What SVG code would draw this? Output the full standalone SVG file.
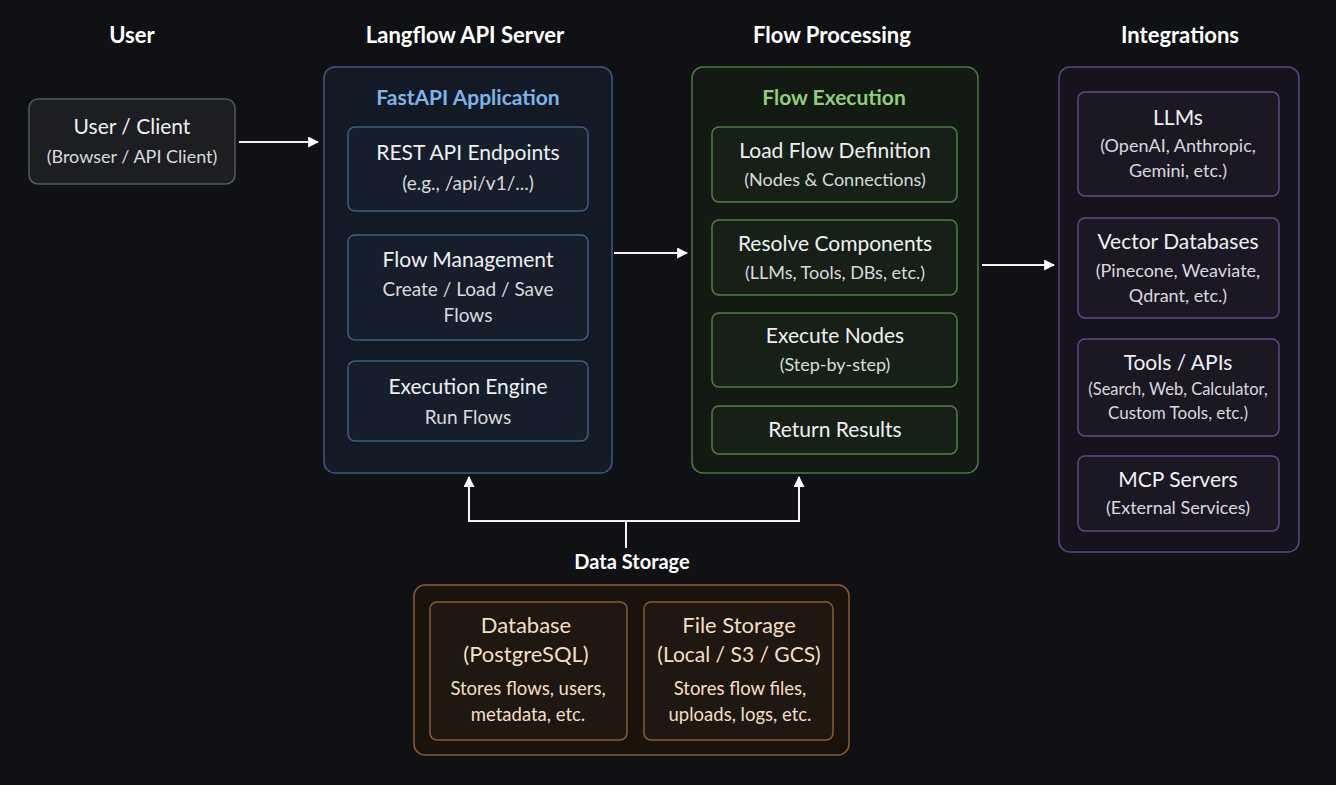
<svg xmlns="http://www.w3.org/2000/svg" width="1336" height="785" viewBox="0 0 1336 785">
<defs>
<marker id="ah" viewBox="0 0 10 10" refX="9" refY="5" markerWidth="11" markerHeight="11" markerUnits="userSpaceOnUse" orient="auto"><path d="M0,0 L10,5 L0,10 z" fill="#ffffff"/></marker>
<style>
text{font-family:Lato,"Noto Sans","Liberation Sans",sans-serif;text-anchor:middle;fill:#eef0f2}
.hdr{font-size:22px;font-weight:bold;fill:#ffffff}
.t{font-size:21px}
.s{font-size:18px;fill:#d8dadd}
.conn{stroke:#f2f2f2;stroke-width:2;fill:none}
.user{fill:#1c1e21;stroke:#55585d;stroke-width:1.5}
.blueC{fill:#131a26;stroke:#3e5a82;stroke-width:1.5}
.blueI{fill:#161e2b;stroke:#3f5d85;stroke-width:1.5}
.greenC{fill:#131a13;stroke:#4b7a40;stroke-width:1.5}
.greenI{fill:#172017;stroke:#4f7f44;stroke-width:1.5}
.purC{fill:#16131e;stroke:#5b4584;stroke-width:1.5}
.purI{fill:#1b1824;stroke:#5f4a86;stroke-width:1.5}
.orC{fill:#19130e;stroke:#8e5c2c;stroke-width:1.5}
.orI{fill:#1e1712;stroke:#8c5b2e;stroke-width:1.5}
.orT{fill:#f2dfc4}
</style>
</defs>
<rect width="1336" height="785" fill="#0f1114"/>

<g id="headers">
<text class="hdr" x="132" y="43">User</text>
<text class="hdr" x="465" y="43">Langflow API Server</text>
<text class="hdr" x="832" y="43">Flow Processing</text>
<text class="hdr" x="1180" y="43">Integrations</text>
</g>

<g id="user-client">
<rect class="user" x="29" y="99" width="206" height="85" rx="9"/>
<text class="t" x="132" y="134">User / Client</text>
<text class="s" x="132" y="163">(Browser / API Client)</text>
</g>

<g id="api-server">
<rect class="blueC" x="324" y="67" width="288" height="406" rx="11"/>
<text x="468" y="105" style="font-size:21px;font-weight:bold;fill:#7db4e8">FastAPI Application</text>
</g>
<g id="rest-api">
<rect class="blueI" x="348" y="127" width="240" height="84" rx="7"/>
<text class="t" x="468" y="160">REST API Endpoints</text>
<text class="s" x="468" y="190" style="font-size:19px">(e.g., /api/v1/...)</text>
</g>
<g id="flow-management">
<rect class="blueI" x="348" y="235" width="240" height="105" rx="7"/>
<text class="t" x="468" y="267">Flow Management</text>
<text class="s" x="468" y="296" style="font-size:19px">Create / Load / Save</text>
<text class="s" x="468" y="322" style="font-size:19px">Flows</text>
</g>
<g id="execution-engine">
<rect class="blueI" x="348" y="361" width="240" height="80" rx="7"/>
<text class="t" x="468" y="394">Execution Engine</text>
<text class="s" x="468" y="424" style="font-size:19px">Run Flows</text>
</g>

<g id="flow-processing">
<rect class="greenC" x="692" y="67" width="286" height="406" rx="11"/>
<text x="834" y="105" style="font-size:21px;font-weight:bold;fill:#8fcf78">Flow Execution</text>
</g>
<g id="load-flow">
<rect class="greenI" x="712" y="127" width="245" height="75" rx="7"/>
<text class="t" x="835" y="158">Load Flow Definition</text>
<text class="s" x="835" y="186">(Nodes &amp; Connections)</text>
</g>
<g id="resolve-components">
<rect class="greenI" x="712" y="220" width="245" height="75" rx="7"/>
<text class="t" x="835" y="251">Resolve Components</text>
<text class="s" x="835" y="279">(LLMs, Tools, DBs, etc.)</text>
</g>
<g id="execute-nodes">
<rect class="greenI" x="712" y="313" width="245" height="74" rx="7"/>
<text class="t" x="835" y="343">Execute Nodes</text>
<text class="s" x="835" y="371">(Step-by-step)</text>
</g>
<g id="return-results">
<rect class="greenI" x="712" y="406" width="245" height="48" rx="7"/>
<text class="t" x="835" y="437">Return Results</text>
</g>

<g id="integrations">
<rect class="purC" x="1059" y="67" width="240" height="485" rx="11"/>
</g>
<g id="llms">
<rect class="purI" x="1078" y="92" width="201" height="104" rx="7"/>
<text class="t" x="1178" y="125">LLMs</text>
<text class="s" x="1178" y="152">(OpenAI, Anthropic,</text>
<text class="s" x="1178" y="177">Gemini, etc.)</text>
</g>
<g id="vector-db">
<rect class="purI" x="1078" y="218" width="201" height="100" rx="7"/>
<text class="t" x="1178" y="249">Vector Databases</text>
<text class="s" x="1178" y="277">(Pinecone, Weaviate,</text>
<text class="s" x="1178" y="302">Qdrant, etc.)</text>
</g>
<g id="tools-apis">
<rect class="purI" x="1078" y="339" width="201" height="97" rx="7"/>
<text class="t" x="1178" y="370">Tools / APIs</text>
<text class="s" x="1178" y="395" style="font-size:16.5px">(Search, Web, Calculator,</text>
<text class="s" x="1178" y="419" style="font-size:17px">Custom Tools, etc.)</text>
</g>
<g id="mcp-servers">
<rect class="purI" x="1078" y="456" width="201" height="75" rx="7"/>
<text class="t" x="1178" y="487">MCP Servers</text>
<text class="s" x="1178" y="514">(External Services)</text>
</g>

<g id="data-storage">
<text class="hdr" x="632" y="569" style="font-size:20px">Data Storage</text>
<rect class="orC" x="414" y="585" width="435" height="170" rx="11"/>
</g>
<g id="database">
<rect class="orI" x="430" y="602" width="197" height="138" rx="7"/>
<text class="t orT" x="526" y="633" style="font-size:22px">Database</text>
<text class="t orT" x="526" y="662" style="font-size:22px">(PostgreSQL)</text>
<text class="s orT" x="528" y="695" style="font-size:18.5px">Stores flows, users,</text>
<text class="s orT" x="528" y="721" style="font-size:18.5px">metadata, etc.</text>
</g>
<g id="file-storage">
<rect class="orI" x="644" y="602" width="189" height="138" rx="7"/>
<text class="t orT" x="739" y="633" style="font-size:22px">File Storage</text>
<text class="t orT" x="739" y="662" style="font-size:21px">(Local / S3 / GCS)</text>
<text class="s orT" x="740" y="695" style="font-size:18.5px">Stores flow files,</text>
<text class="s orT" x="740" y="721" style="font-size:18.5px">uploads, logs, etc.</text>
</g>

<g id="connectors">
<line class="conn" x1="239" y1="142" x2="318" y2="142" marker-end="url(#ah)"/>
<line class="conn" x1="614" y1="253" x2="687" y2="253" marker-end="url(#ah)"/>
<line class="conn" x1="982" y1="265" x2="1054" y2="265" marker-end="url(#ah)"/>
<polyline class="conn" points="626,548 626,521 469,521 469,477" marker-end="url(#ah)"/>
<polyline class="conn" points="626,521 799,521 799,477" marker-end="url(#ah)"/>
</g>
</svg>
